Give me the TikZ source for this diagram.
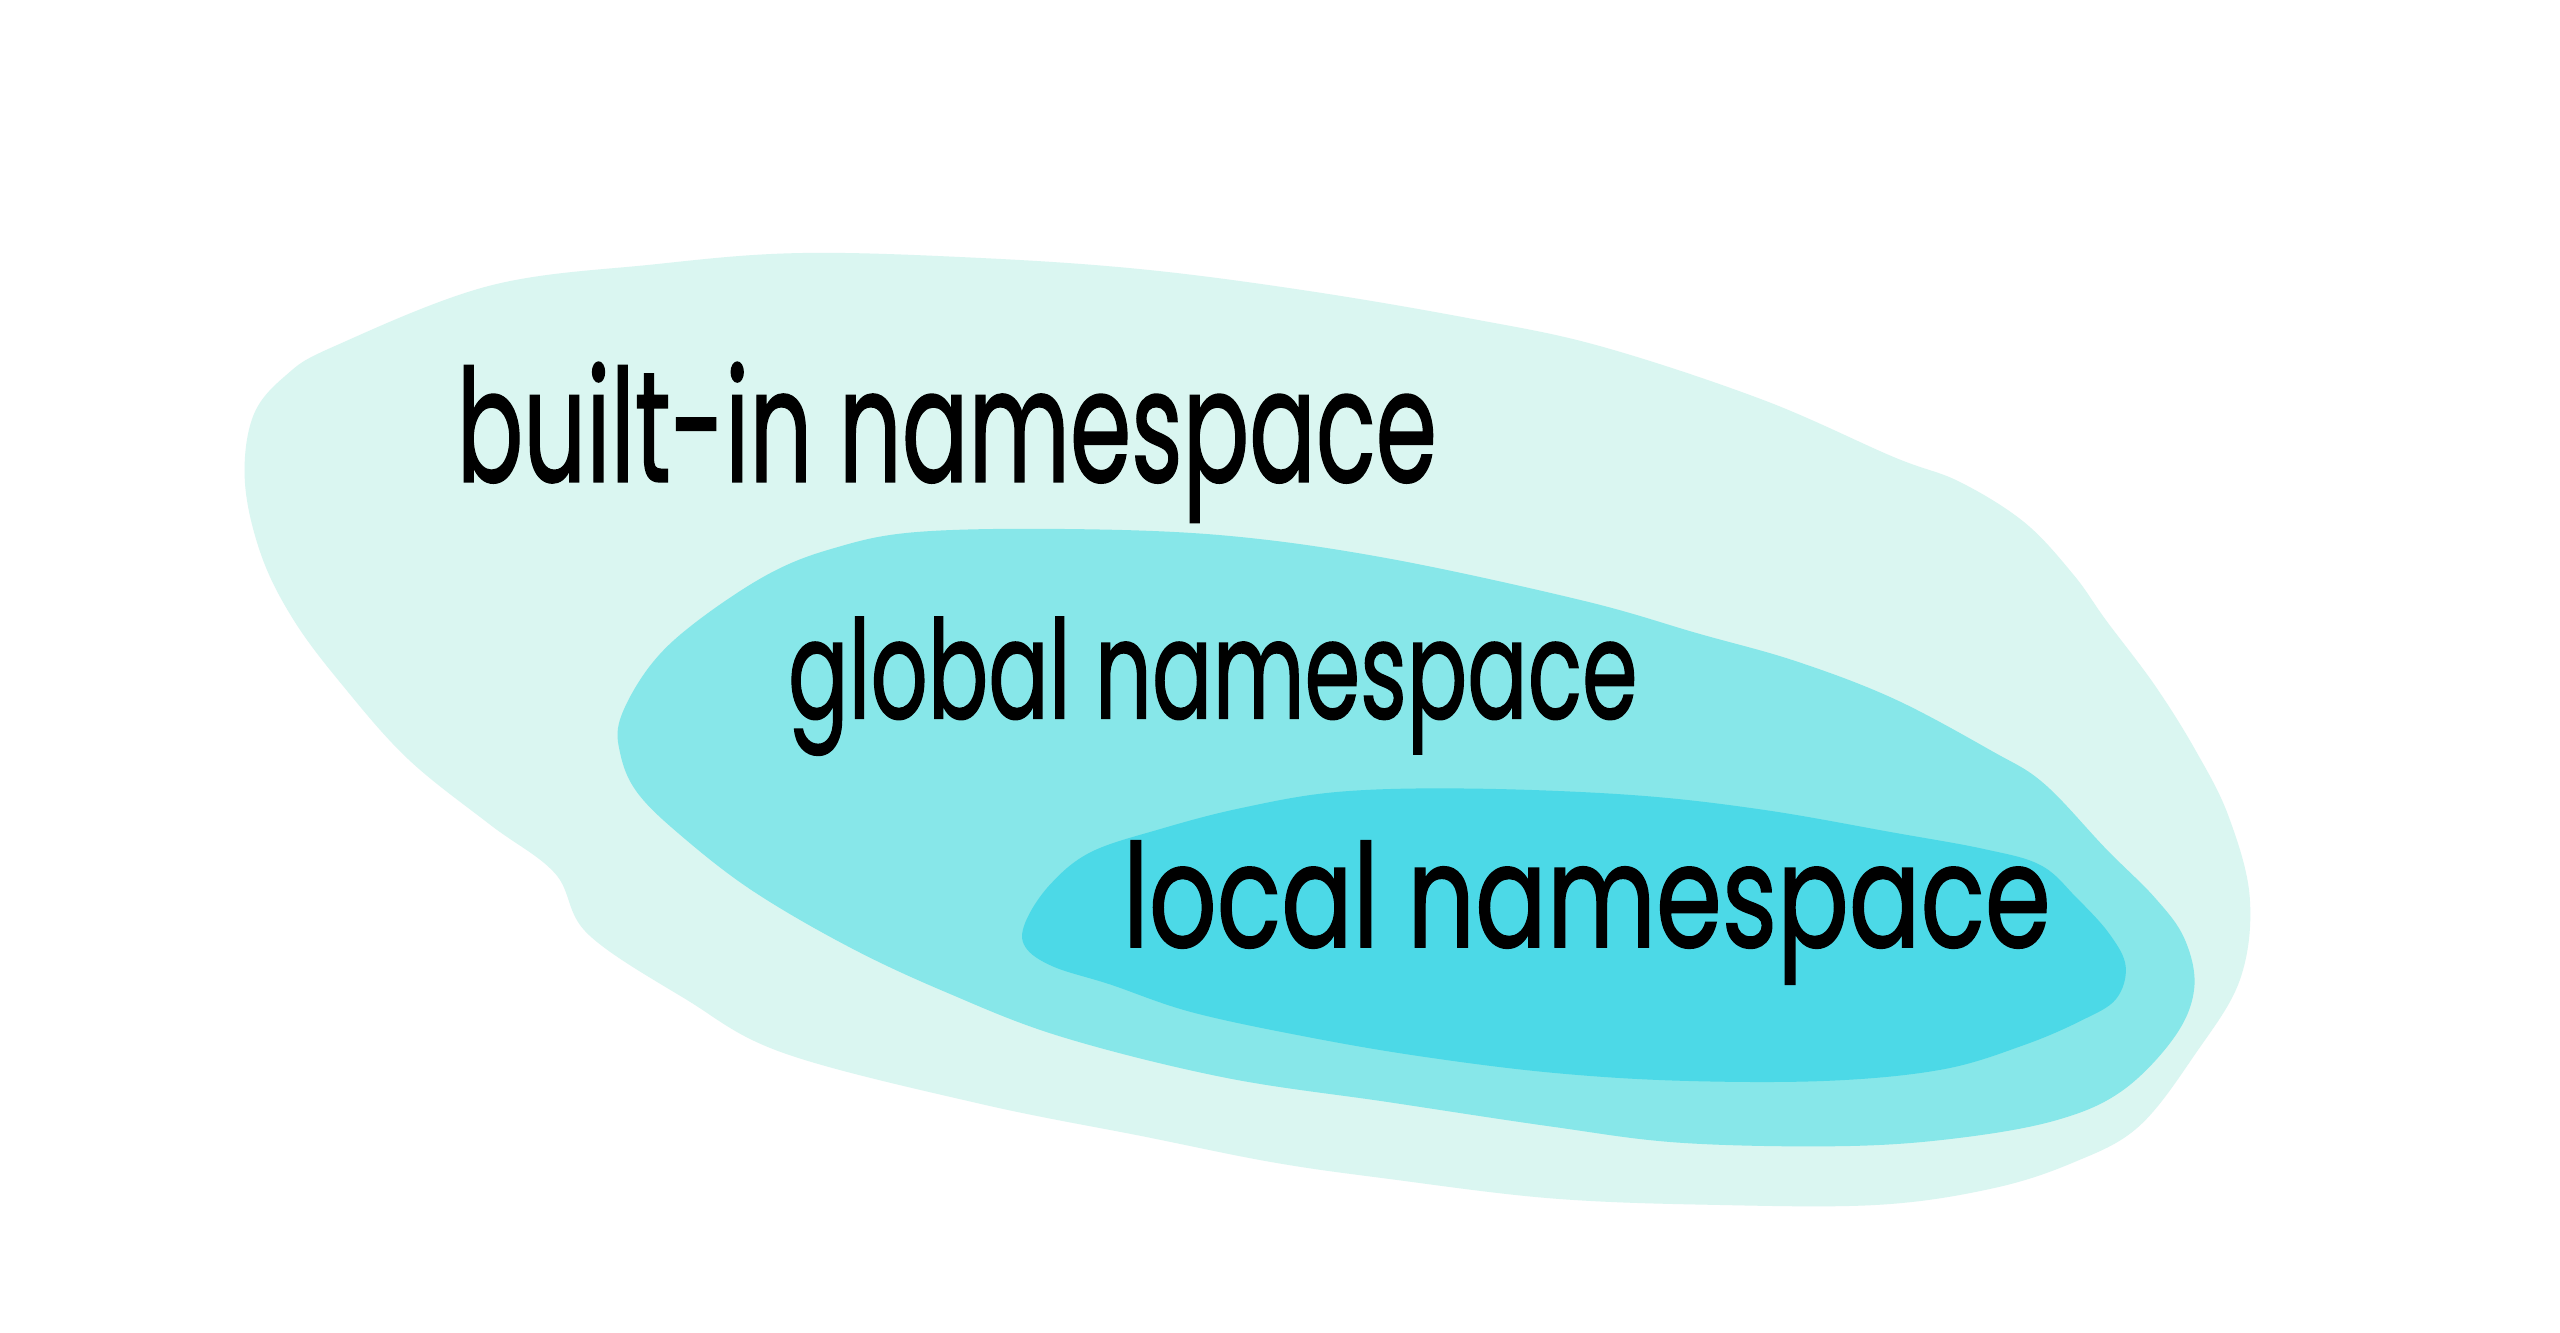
\documentclass[tikz,border=0pt]{standalone}
\usepackage{fontspec}
\setmainfont{Poppins}
\newfontfamily\handfont{Poppins}[FakeBold=1.3]
\usepackage{graphicx}
\definecolor{outerc}{HTML}{DAF6F1}
\definecolor{midc}{HTML}{87E7E9}
\definecolor{innerc}{HTML}{4CD9E7}
\tikzset{
  hand/.style={inner sep=0pt, anchor=base west, text=black, font=\handfont}
}
\begin{document}
\begin{tikzpicture}[x=0.01cm,y=-0.01cm]
\useasboundingbox[fill=white] (0,0) rectangle (1568,816);
% outer blob: built-in
\fill[outerc] plot[smooth cycle, tension=0.6] coordinates {
(205,212) (300,175) (400,162) (490,155) (600,158) (700,165) (800,178) (900,195)
(980,212) (1080,245) (1160,280) (1200,295) (1240,320) (1270,352) (1290,380)
(1320,420) (1345,460) (1365,500) (1378,550) (1372,600) (1345,645) (1310,690)
(1270,712) (1220,728) (1150,738) (1050,738) (950,734) (850,722) (780,712)
(700,696) (600,676) (480,645) (420,612) (360,572) (340,535) (300,505)
(250,465) (210,420) (180,380) (160,340) (150,295) (155,255) (175,230)};
% middle blob: global
\fill[midc] plot[smooth cycle, tension=0.6] coordinates {
(380,440) (398,408) (425,382) (470,352) (510,336) (560,326) (650,324) (750,328)
(850,342) (970,368) (1040,388) (1100,405) (1160,428) (1220,460) (1252,480)
(1290,520) (1320,550) (1338,575) (1344,605) (1332,635) (1300,668) (1260,686)
(1200,697) (1130,702) (1030,700) (950,690) (850,675) (750,660) (650,635)
(580,608) (520,580) (460,545) (415,510) (390,485) (380,462)};
% inner blob: local
\fill[innerc] plot[smooth cycle, tension=0.6] coordinates {
(628,565) (643,542) (668,522) (710,508) (760,495) (820,485) (900,483) (1000,487)
(1080,496) (1160,510) (1215,520) (1250,530) (1272,550) (1292,572) (1302,592)
(1296,612) (1275,625) (1240,640) (1190,655) (1120,662) (1030,662) (950,657)
(870,647) (800,635) (730,620) (680,603) (645,592) (628,580)};
% labels
\node[hand] (builtin) at (279,295) {\resizebox{6.0cm}{0.73cm}{built-in namespace}};
\node[hand] (global) at (482,440) {\resizebox{5.2cm}{0.62cm}{global namespace}};
\node[hand] (local) at (687,580) {\resizebox{5.68cm}{0.65cm}{local namespace}};
\end{tikzpicture}
\end{document}
